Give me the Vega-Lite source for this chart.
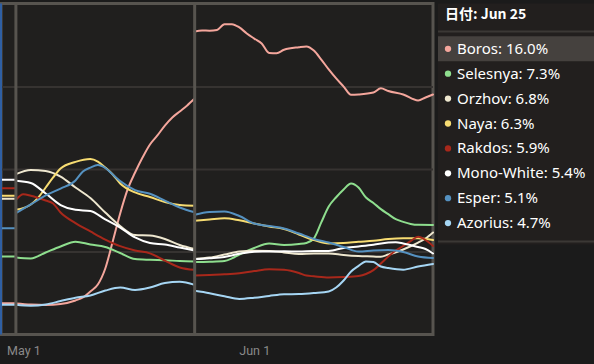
{
"$schema": "https://vega.github.io/schema/vega-lite/v6.json",
"background": "#1b1b1b",
"padding": {"left": -2, "top": 0.5, "right": 0, "bottom": 0},
"spacing": 5,
"bounds": "flush",
"config": {"font": "Noto Sans", "view": {"stroke": null}},
"datasets": {
"markers": [{"date": "2024-04-30"}, {"date": "2024-05-24"}],
"start": [{"date": "2024-04-28"}],
"grid": [{"level": 5.5}, {"level": 11}, {"level": 16.5}],
"panel": [
{"deck": "Boros", "rank": 1, "label": "Boros: 16.0%"},
{"deck": "Selesnya", "rank": 2, "label": "Selesnya: 7.3%"},
{"deck": "Orzhov", "rank": 3, "label": "Orzhov: 6.8%"},
{"deck": "Naya", "rank": 4, "label": "Naya: 6.3%"},
{"deck": "Rakdos", "rank": 5, "label": "Rakdos: 5.9%"},
{"deck": "Mono-White", "rank": 6, "label": "Mono-White: 5.4%"},
{"deck": "Esper", "rank": 7, "label": "Esper: 5.1%"},
{"deck": "Azorius", "rank": 8, "label": "Azorius: 4.7%"}
],
"shares": [
{"date":"2024-04-28","seg":"a","deck":"Boros","share":2.09},
{"date":"2024-04-30","seg":"a","deck":"Boros","share":2.09},
{"date":"2024-04-30","seg":"b","deck":"Boros","share":2.07},
{"date":"2024-05-02","seg":"b","deck":"Boros","share":2.0},
{"date":"2024-05-04","seg":"b","deck":"Boros","share":1.97},
{"date":"2024-05-06","seg":"b","deck":"Boros","share":2.03},
{"date":"2024-05-08","seg":"b","deck":"Boros","share":2.27},
{"date":"2024-05-09","seg":"b","deck":"Boros","share":2.47},
{"date":"2024-05-10","seg":"b","deck":"Boros","share":2.87},
{"date":"2024-05-11","seg":"b","deck":"Boros","share":3.33},
{"date":"2024-05-12","seg":"b","deck":"Boros","share":4.4},
{"date":"2024-05-13","seg":"b","deck":"Boros","share":6.2},
{"date":"2024-05-14","seg":"b","deck":"Boros","share":8.07},
{"date":"2024-05-15","seg":"b","deck":"Boros","share":9.67},
{"date":"2024-05-16","seg":"b","deck":"Boros","share":10.8},
{"date":"2024-05-17","seg":"b","deck":"Boros","share":11.8},
{"date":"2024-05-18","seg":"b","deck":"Boros","share":12.67},
{"date":"2024-05-19","seg":"b","deck":"Boros","share":13.27},
{"date":"2024-05-20","seg":"b","deck":"Boros","share":13.93},
{"date":"2024-05-21","seg":"b","deck":"Boros","share":14.47},
{"date":"2024-05-22","seg":"b","deck":"Boros","share":14.87},
{"date":"2024-05-23","seg":"b","deck":"Boros","share":15.27},
{"date":"2024-05-24","seg":"b","deck":"Boros","share":15.73},
{"date":"2024-05-24","seg":"c","deck":"Boros","share":20.2},
{"date":"2024-05-25","seg":"c","deck":"Boros","share":20.27},
{"date":"2024-05-26","seg":"c","deck":"Boros","share":20.25},
{"date":"2024-05-27","seg":"c","deck":"Boros","share":20.3},
{"date":"2024-05-28","seg":"c","deck":"Boros","share":20.69},
{"date":"2024-05-29","seg":"c","deck":"Boros","share":20.69},
{"date":"2024-05-30","seg":"c","deck":"Boros","share":20.47},
{"date":"2024-05-31","seg":"c","deck":"Boros","share":20.07},
{"date":"2024-06-01","seg":"c","deck":"Boros","share":19.73},
{"date":"2024-06-02","seg":"c","deck":"Boros","share":19.4},
{"date":"2024-06-03","seg":"c","deck":"Boros","share":18.77},
{"date":"2024-06-04","seg":"c","deck":"Boros","share":18.75},
{"date":"2024-06-05","seg":"c","deck":"Boros","share":18.98},
{"date":"2024-06-07","seg":"c","deck":"Boros","share":19.15},
{"date":"2024-06-08","seg":"c","deck":"Boros","share":19.2},
{"date":"2024-06-09","seg":"c","deck":"Boros","share":18.93},
{"date":"2024-06-10","seg":"c","deck":"Boros","share":18.33},
{"date":"2024-06-11","seg":"c","deck":"Boros","share":17.67},
{"date":"2024-06-12","seg":"c","deck":"Boros","share":17.07},
{"date":"2024-06-13","seg":"c","deck":"Boros","share":16.53},
{"date":"2024-06-14","seg":"c","deck":"Boros","share":15.98},
{"date":"2024-06-15","seg":"c","deck":"Boros","share":16.0},
{"date":"2024-06-17","seg":"c","deck":"Boros","share":16.13},
{"date":"2024-06-18","seg":"c","deck":"Boros","share":16.42},
{"date":"2024-06-19","seg":"c","deck":"Boros","share":16.23},
{"date":"2024-06-21","seg":"c","deck":"Boros","share":16.0},
{"date":"2024-06-23","seg":"c","deck":"Boros","share":15.6},
{"date":"2024-06-24","seg":"c","deck":"Boros","share":15.8},
{"date":"2024-06-25","seg":"c","deck":"Boros","share":16.0},

{"date":"2024-04-28","seg":"a","deck":"Selesnya","share":5.2},
{"date":"2024-04-30","seg":"a","deck":"Selesnya","share":5.2},
{"date":"2024-04-30","seg":"b","deck":"Selesnya","share":5.13},
{"date":"2024-05-02","seg":"b","deck":"Selesnya","share":5.07},
{"date":"2024-05-04","seg":"b","deck":"Selesnya","share":5.47},
{"date":"2024-05-06","seg":"b","deck":"Selesnya","share":5.87},
{"date":"2024-05-08","seg":"b","deck":"Selesnya","share":6.19},
{"date":"2024-05-10","seg":"b","deck":"Selesnya","share":6.0},
{"date":"2024-05-12","seg":"b","deck":"Selesnya","share":5.83},
{"date":"2024-05-14","seg":"b","deck":"Selesnya","share":5.43},
{"date":"2024-05-16","seg":"b","deck":"Selesnya","share":5.03},
{"date":"2024-05-18","seg":"b","deck":"Selesnya","share":4.98},
{"date":"2024-05-20","seg":"b","deck":"Selesnya","share":4.95},
{"date":"2024-05-22","seg":"b","deck":"Selesnya","share":4.9},
{"date":"2024-05-24","seg":"b","deck":"Selesnya","share":4.87},
{"date":"2024-05-24","seg":"c","deck":"Selesnya","share":4.83},
{"date":"2024-05-26","seg":"c","deck":"Selesnya","share":4.85},
{"date":"2024-05-28","seg":"c","deck":"Selesnya","share":4.9},
{"date":"2024-05-29","seg":"c","deck":"Selesnya","share":5.07},
{"date":"2024-05-30","seg":"c","deck":"Selesnya","share":5.33},
{"date":"2024-06-01","seg":"c","deck":"Selesnya","share":5.77},
{"date":"2024-06-03","seg":"c","deck":"Selesnya","share":6.07},
{"date":"2024-06-05","seg":"c","deck":"Selesnya","share":5.97},
{"date":"2024-06-07","seg":"c","deck":"Selesnya","share":6.03},
{"date":"2024-06-08","seg":"c","deck":"Selesnya","share":6.1},
{"date":"2024-06-09","seg":"c","deck":"Selesnya","share":6.4},
{"date":"2024-06-10","seg":"c","deck":"Selesnya","share":7.47},
{"date":"2024-06-11","seg":"c","deck":"Selesnya","share":8.53},
{"date":"2024-06-12","seg":"c","deck":"Selesnya","share":9.15},
{"date":"2024-06-13","seg":"c","deck":"Selesnya","share":9.67},
{"date":"2024-06-14","seg":"c","deck":"Selesnya","share":10.07},
{"date":"2024-06-15","seg":"c","deck":"Selesnya","share":9.8},
{"date":"2024-06-16","seg":"c","deck":"Selesnya","share":9.13},
{"date":"2024-06-17","seg":"c","deck":"Selesnya","share":8.77},
{"date":"2024-06-18","seg":"c","deck":"Selesnya","share":8.36},
{"date":"2024-06-19","seg":"c","deck":"Selesnya","share":8.02},
{"date":"2024-06-20","seg":"c","deck":"Selesnya","share":7.69},
{"date":"2024-06-21","seg":"c","deck":"Selesnya","share":7.51},
{"date":"2024-06-22","seg":"c","deck":"Selesnya","share":7.37},
{"date":"2024-06-23","seg":"c","deck":"Selesnya","share":7.31},
{"date":"2024-06-25","seg":"c","deck":"Selesnya","share":7.3},

{"date":"2024-04-28","seg":"a","deck":"Orzhov","share":9.05},
{"date":"2024-04-30","seg":"a","deck":"Orzhov","share":9.05},
{"date":"2024-04-30","seg":"b","deck":"Orzhov","share":10.69},
{"date":"2024-05-02","seg":"b","deck":"Orzhov","share":10.97},
{"date":"2024-05-04","seg":"b","deck":"Orzhov","share":10.9},
{"date":"2024-05-06","seg":"b","deck":"Orzhov","share":10.53},
{"date":"2024-05-08","seg":"b","deck":"Orzhov","share":9.8},
{"date":"2024-05-10","seg":"b","deck":"Orzhov","share":9.1},
{"date":"2024-05-12","seg":"b","deck":"Orzhov","share":8.13},
{"date":"2024-05-14","seg":"b","deck":"Orzhov","share":7.23},
{"date":"2024-05-16","seg":"b","deck":"Orzhov","share":6.63},
{"date":"2024-05-18","seg":"b","deck":"Orzhov","share":6.6},
{"date":"2024-05-20","seg":"b","deck":"Orzhov","share":6.37},
{"date":"2024-05-22","seg":"b","deck":"Orzhov","share":5.97},
{"date":"2024-05-24","seg":"b","deck":"Orzhov","share":5.7},
{"date":"2024-05-24","seg":"c","deck":"Orzhov","share":5.03},
{"date":"2024-05-26","seg":"c","deck":"Orzhov","share":5.13},
{"date":"2024-05-28","seg":"c","deck":"Orzhov","share":5.33},
{"date":"2024-05-30","seg":"c","deck":"Orzhov","share":5.53},
{"date":"2024-06-01","seg":"c","deck":"Orzhov","share":5.58},
{"date":"2024-06-03","seg":"c","deck":"Orzhov","share":5.57},
{"date":"2024-06-05","seg":"c","deck":"Orzhov","share":5.47},
{"date":"2024-06-07","seg":"c","deck":"Orzhov","share":5.37},
{"date":"2024-06-09","seg":"c","deck":"Orzhov","share":5.4},
{"date":"2024-06-11","seg":"c","deck":"Orzhov","share":5.4},
{"date":"2024-06-13","seg":"c","deck":"Orzhov","share":5.3},
{"date":"2024-06-15","seg":"c","deck":"Orzhov","share":5.23},
{"date":"2024-06-17","seg":"c","deck":"Orzhov","share":5.2},
{"date":"2024-06-18","seg":"c","deck":"Orzhov","share":5.18},
{"date":"2024-06-19","seg":"c","deck":"Orzhov","share":5.33},
{"date":"2024-06-21","seg":"c","deck":"Orzhov","share":5.67},
{"date":"2024-06-23","seg":"c","deck":"Orzhov","share":6.13},
{"date":"2024-06-24","seg":"c","deck":"Orzhov","share":6.4},
{"date":"2024-06-25","seg":"c","deck":"Orzhov","share":6.8},

{"date":"2024-04-28","seg":"a","deck":"Naya","share":9.25},
{"date":"2024-04-30","seg":"a","deck":"Naya","share":9.25},
{"date":"2024-04-30","seg":"b","deck":"Naya","share":8.31},
{"date":"2024-05-02","seg":"b","deck":"Naya","share":8.67},
{"date":"2024-05-03","seg":"b","deck":"Naya","share":9.13},
{"date":"2024-05-04","seg":"b","deck":"Naya","share":9.8},
{"date":"2024-05-05","seg":"b","deck":"Naya","share":10.47},
{"date":"2024-05-06","seg":"b","deck":"Naya","share":11.07},
{"date":"2024-05-08","seg":"b","deck":"Naya","share":11.51},
{"date":"2024-05-10","seg":"b","deck":"Naya","share":11.7},
{"date":"2024-05-11","seg":"b","deck":"Naya","share":11.53},
{"date":"2024-05-12","seg":"b","deck":"Naya","share":11.13},
{"date":"2024-05-13","seg":"b","deck":"Naya","share":10.67},
{"date":"2024-05-14","seg":"b","deck":"Naya","share":10.07},
{"date":"2024-05-16","seg":"b","deck":"Naya","share":9.47},
{"date":"2024-05-18","seg":"b","deck":"Naya","share":9.17},
{"date":"2024-05-20","seg":"b","deck":"Naya","share":8.83},
{"date":"2024-05-22","seg":"b","deck":"Naya","share":8.63},
{"date":"2024-05-24","seg":"b","deck":"Naya","share":8.58},
{"date":"2024-05-24","seg":"c","deck":"Naya","share":7.58},
{"date":"2024-05-26","seg":"c","deck":"Naya","share":7.67},
{"date":"2024-05-28","seg":"c","deck":"Naya","share":7.75},
{"date":"2024-05-30","seg":"c","deck":"Naya","share":7.61},
{"date":"2024-06-01","seg":"c","deck":"Naya","share":7.4},
{"date":"2024-06-03","seg":"c","deck":"Naya","share":7.2},
{"date":"2024-06-05","seg":"c","deck":"Naya","share":7.03},
{"date":"2024-06-07","seg":"c","deck":"Naya","share":6.67},
{"date":"2024-06-09","seg":"c","deck":"Naya","share":6.3},
{"date":"2024-06-11","seg":"c","deck":"Naya","share":6.07},
{"date":"2024-06-13","seg":"c","deck":"Naya","share":6.1},
{"date":"2024-06-15","seg":"c","deck":"Naya","share":6.18},
{"date":"2024-06-17","seg":"c","deck":"Naya","share":6.25},
{"date":"2024-06-19","seg":"c","deck":"Naya","share":6.37},
{"date":"2024-06-21","seg":"c","deck":"Naya","share":6.42},
{"date":"2024-06-23","seg":"c","deck":"Naya","share":6.41},
{"date":"2024-06-25","seg":"c","deck":"Naya","share":6.3},

{"date":"2024-04-28","seg":"a","deck":"Rakdos","share":9.75},
{"date":"2024-04-30","seg":"a","deck":"Rakdos","share":9.75},
{"date":"2024-04-30","seg":"b","deck":"Rakdos","share":8.98},
{"date":"2024-05-01","seg":"b","deck":"Rakdos","share":9.35},
{"date":"2024-05-02","seg":"b","deck":"Rakdos","share":9.25},
{"date":"2024-05-04","seg":"b","deck":"Rakdos","share":8.93},
{"date":"2024-05-05","seg":"b","deck":"Rakdos","share":8.73},
{"date":"2024-05-06","seg":"b","deck":"Rakdos","share":8.13},
{"date":"2024-05-08","seg":"b","deck":"Rakdos","share":7.43},
{"date":"2024-05-10","seg":"b","deck":"Rakdos","share":6.87},
{"date":"2024-05-12","seg":"b","deck":"Rakdos","share":6.33},
{"date":"2024-05-14","seg":"b","deck":"Rakdos","share":5.89},
{"date":"2024-05-16","seg":"b","deck":"Rakdos","share":5.6},
{"date":"2024-05-18","seg":"b","deck":"Rakdos","share":5.41},
{"date":"2024-05-20","seg":"b","deck":"Rakdos","share":4.93},
{"date":"2024-05-22","seg":"b","deck":"Rakdos","share":4.47},
{"date":"2024-05-24","seg":"b","deck":"Rakdos","share":4.31},
{"date":"2024-05-24","seg":"c","deck":"Rakdos","share":3.93},
{"date":"2024-05-26","seg":"c","deck":"Rakdos","share":3.97},
{"date":"2024-05-28","seg":"c","deck":"Rakdos","share":4.01},
{"date":"2024-05-30","seg":"c","deck":"Rakdos","share":4.08},
{"date":"2024-06-01","seg":"c","deck":"Rakdos","share":4.23},
{"date":"2024-06-03","seg":"c","deck":"Rakdos","share":4.35},
{"date":"2024-06-05","seg":"c","deck":"Rakdos","share":4.31},
{"date":"2024-06-07","seg":"c","deck":"Rakdos","share":4.1},
{"date":"2024-06-08","seg":"c","deck":"Rakdos","share":3.93},
{"date":"2024-06-09","seg":"c","deck":"Rakdos","share":3.88},
{"date":"2024-06-11","seg":"c","deck":"Rakdos","share":3.8},
{"date":"2024-06-13","seg":"c","deck":"Rakdos","share":3.83},
{"date":"2024-06-15","seg":"c","deck":"Rakdos","share":3.9},
{"date":"2024-06-16","seg":"c","deck":"Rakdos","share":4.03},
{"date":"2024-06-17","seg":"c","deck":"Rakdos","share":4.29},
{"date":"2024-06-18","seg":"c","deck":"Rakdos","share":4.73},
{"date":"2024-06-19","seg":"c","deck":"Rakdos","share":5.2},
{"date":"2024-06-20","seg":"c","deck":"Rakdos","share":5.6},
{"date":"2024-06-21","seg":"c","deck":"Rakdos","share":5.9},
{"date":"2024-06-22","seg":"c","deck":"Rakdos","share":6.23},
{"date":"2024-06-23","seg":"c","deck":"Rakdos","share":6.51},
{"date":"2024-06-24","seg":"c","deck":"Rakdos","share":6.3},
{"date":"2024-06-25","seg":"c","deck":"Rakdos","share":5.9},

{"date":"2024-04-28","seg":"a","deck":"Mono-White","share":10.31},
{"date":"2024-04-30","seg":"a","deck":"Mono-White","share":10.31},
{"date":"2024-04-30","seg":"b","deck":"Mono-White","share":10.25},
{"date":"2024-05-02","seg":"b","deck":"Mono-White","share":10.1},
{"date":"2024-05-04","seg":"b","deck":"Mono-White","share":9.4},
{"date":"2024-05-06","seg":"b","deck":"Mono-White","share":8.63},
{"date":"2024-05-08","seg":"b","deck":"Mono-White","share":8.31},
{"date":"2024-05-10","seg":"b","deck":"Mono-White","share":8.23},
{"date":"2024-05-12","seg":"b","deck":"Mono-White","share":7.67},
{"date":"2024-05-14","seg":"b","deck":"Mono-White","share":7.13},
{"date":"2024-05-16","seg":"b","deck":"Mono-White","share":6.47},
{"date":"2024-05-18","seg":"b","deck":"Mono-White","share":6.1},
{"date":"2024-05-20","seg":"b","deck":"Mono-White","share":6.0},
{"date":"2024-05-22","seg":"b","deck":"Mono-White","share":5.8},
{"date":"2024-05-24","seg":"b","deck":"Mono-White","share":5.6},
{"date":"2024-05-24","seg":"c","deck":"Mono-White","share":5.03},
{"date":"2024-05-26","seg":"c","deck":"Mono-White","share":5.09},
{"date":"2024-05-28","seg":"c","deck":"Mono-White","share":5.17},
{"date":"2024-05-30","seg":"c","deck":"Mono-White","share":5.38},
{"date":"2024-06-01","seg":"c","deck":"Mono-White","share":5.52},
{"date":"2024-06-03","seg":"c","deck":"Mono-White","share":5.53},
{"date":"2024-06-05","seg":"c","deck":"Mono-White","share":5.55},
{"date":"2024-06-07","seg":"c","deck":"Mono-White","share":5.53},
{"date":"2024-06-09","seg":"c","deck":"Mono-White","share":5.57},
{"date":"2024-06-11","seg":"c","deck":"Mono-White","share":5.57},
{"date":"2024-06-13","seg":"c","deck":"Mono-White","share":5.77},
{"date":"2024-06-15","seg":"c","deck":"Mono-White","share":5.87},
{"date":"2024-06-17","seg":"c","deck":"Mono-White","share":5.98},
{"date":"2024-06-19","seg":"c","deck":"Mono-White","share":6.13},
{"date":"2024-06-20","seg":"c","deck":"Mono-White","share":6.15},
{"date":"2024-06-21","seg":"c","deck":"Mono-White","share":6.07},
{"date":"2024-06-23","seg":"c","deck":"Mono-White","share":5.83},
{"date":"2024-06-24","seg":"c","deck":"Mono-White","share":5.7},
{"date":"2024-06-25","seg":"c","deck":"Mono-White","share":5.4},

{"date":"2024-04-28","seg":"a","deck":"Esper","share":7.09},
{"date":"2024-04-30","seg":"a","deck":"Esper","share":7.09},
{"date":"2024-04-30","seg":"b","deck":"Esper","share":8.09},
{"date":"2024-05-02","seg":"b","deck":"Esper","share":8.67},
{"date":"2024-05-04","seg":"b","deck":"Esper","share":9.27},
{"date":"2024-05-06","seg":"b","deck":"Esper","share":9.73},
{"date":"2024-05-08","seg":"b","deck":"Esper","share":10.27},
{"date":"2024-05-09","seg":"b","deck":"Esper","share":10.87},
{"date":"2024-05-10","seg":"b","deck":"Esper","share":11.13},
{"date":"2024-05-11","seg":"b","deck":"Esper","share":11.3},
{"date":"2024-05-12","seg":"b","deck":"Esper","share":11.1},
{"date":"2024-05-13","seg":"b","deck":"Esper","share":10.67},
{"date":"2024-05-14","seg":"b","deck":"Esper","share":10.23},
{"date":"2024-05-16","seg":"b","deck":"Esper","share":9.63},
{"date":"2024-05-18","seg":"b","deck":"Esper","share":9.38},
{"date":"2024-05-20","seg":"b","deck":"Esper","share":8.93},
{"date":"2024-05-22","seg":"b","deck":"Esper","share":8.47},
{"date":"2024-05-24","seg":"b","deck":"Esper","share":8.15},
{"date":"2024-05-24","seg":"c","deck":"Esper","share":7.98},
{"date":"2024-05-26","seg":"c","deck":"Esper","share":8.17},
{"date":"2024-05-28","seg":"c","deck":"Esper","share":8.2},
{"date":"2024-05-30","seg":"c","deck":"Esper","share":7.9},
{"date":"2024-06-01","seg":"c","deck":"Esper","share":7.4},
{"date":"2024-06-03","seg":"c","deck":"Esper","share":7.23},
{"date":"2024-06-05","seg":"c","deck":"Esper","share":7.07},
{"date":"2024-06-07","seg":"c","deck":"Esper","share":6.73},
{"date":"2024-06-09","seg":"c","deck":"Esper","share":6.37},
{"date":"2024-06-11","seg":"c","deck":"Esper","share":6.13},
{"date":"2024-06-13","seg":"c","deck":"Esper","share":5.83},
{"date":"2024-06-15","seg":"c","deck":"Esper","share":5.53},
{"date":"2024-06-17","seg":"c","deck":"Esper","share":5.6},
{"date":"2024-06-19","seg":"c","deck":"Esper","share":5.63},
{"date":"2024-06-21","seg":"c","deck":"Esper","share":5.5},
{"date":"2024-06-23","seg":"c","deck":"Esper","share":5.2},
{"date":"2024-06-25","seg":"c","deck":"Esper","share":5.1},

{"date":"2024-04-28","seg":"a","deck":"Azorius","share":1.98},
{"date":"2024-04-30","seg":"a","deck":"Azorius","share":1.98},
{"date":"2024-04-30","seg":"b","deck":"Azorius","share":1.98},
{"date":"2024-05-02","seg":"b","deck":"Azorius","share":1.92},
{"date":"2024-05-04","seg":"b","deck":"Azorius","share":2.0},
{"date":"2024-05-06","seg":"b","deck":"Azorius","share":2.23},
{"date":"2024-05-08","seg":"b","deck":"Azorius","share":2.45},
{"date":"2024-05-10","seg":"b","deck":"Azorius","share":2.6},
{"date":"2024-05-12","seg":"b","deck":"Azorius","share":2.93},
{"date":"2024-05-14","seg":"b","deck":"Azorius","share":3.13},
{"date":"2024-05-16","seg":"b","deck":"Azorius","share":2.97},
{"date":"2024-05-18","seg":"b","deck":"Azorius","share":3.13},
{"date":"2024-05-20","seg":"b","deck":"Azorius","share":3.43},
{"date":"2024-05-22","seg":"b","deck":"Azorius","share":3.51},
{"date":"2024-05-24","seg":"b","deck":"Azorius","share":3.31},
{"date":"2024-05-24","seg":"c","deck":"Azorius","share":2.91},
{"date":"2024-05-26","seg":"c","deck":"Azorius","share":2.75},
{"date":"2024-05-28","seg":"c","deck":"Azorius","share":2.55},
{"date":"2024-05-30","seg":"c","deck":"Azorius","share":2.37},
{"date":"2024-06-01","seg":"c","deck":"Azorius","share":2.45},
{"date":"2024-06-03","seg":"c","deck":"Azorius","share":2.57},
{"date":"2024-06-05","seg":"c","deck":"Azorius","share":2.68},
{"date":"2024-06-07","seg":"c","deck":"Azorius","share":2.7},
{"date":"2024-06-09","seg":"c","deck":"Azorius","share":2.77},
{"date":"2024-06-11","seg":"c","deck":"Azorius","share":2.87},
{"date":"2024-06-12","seg":"c","deck":"Azorius","share":3.13},
{"date":"2024-06-13","seg":"c","deck":"Azorius","share":3.6},
{"date":"2024-06-14","seg":"c","deck":"Azorius","share":4.2},
{"date":"2024-06-15","seg":"c","deck":"Azorius","share":4.57},
{"date":"2024-06-16","seg":"c","deck":"Azorius","share":4.87},
{"date":"2024-06-17","seg":"c","deck":"Azorius","share":4.83},
{"date":"2024-06-18","seg":"c","deck":"Azorius","share":4.53},
{"date":"2024-06-19","seg":"c","deck":"Azorius","share":4.43},
{"date":"2024-06-21","seg":"c","deck":"Azorius","share":4.32},
{"date":"2024-06-23","seg":"c","deck":"Azorius","share":4.53},
{"date":"2024-06-25","seg":"c","deck":"Azorius","share":4.7}
]
},
"hconcat": [
{
"width": 432,
"height": 331,
"view": {"fill": "#201f1e", "stroke": "#57544f", "strokeWidth": 3},
"layer": [
{
"data": {"name": "grid"},
"mark": {"type": "rule", "color": "#363331", "strokeWidth": 2},
"encoding": {
"y": {"field": "level", "type": "quantitative", "scale": {"domain": [0, 22.0667], "nice": false, "zero": true}, "axis": null}
}
},
{
"data": {"name": "shares"},
"mark": {"type": "line", "interpolate": "monotone", "strokeWidth": 2, "strokeJoin": "round", "strokeCap": "round"},
"encoding": {
"x": {"field": "date", "type": "temporal",
"scale": {"type": "utc", "domain": [{"year": 2024, "month": 4, "date": 28, "utc": true}, {"year": 2024, "month": 6, "date": 25, "utc": true}]},
"axis": {"title": null, "values": [{"year": 2024, "month": 5, "date": 1, "utc": true}, {"year": 2024, "month": 6, "date": 1, "utc": true}], "format": "%b %-d", "labelColor": "#8a8a8a", "labelFont": "Roboto", "labelFontSize": 12.5, "labelPadding": 10, "ticks": false, "domain": false, "grid": false, "minExtent": 31, "maxExtent": 31}},
"y": {"field": "share", "type": "quantitative",
"scale": {"domain": [0, 22.0667], "nice": false, "zero": true},
"axis": null},
"color": {"field": "deck", "type": "nominal",
"scale": {"domain": ["Boros", "Selesnya", "Orzhov", "Naya", "Rakdos", "Mono-White", "Esper", "Azorius"], "range": ["#f4a69c", "#8ede8e", "#eee7cf", "#f7dc72", "#a8281b", "#ffffff", "#5591c0", "#a6d6f4"]},
"legend": null},
"detail": {"field": "seg", "type": "nominal"}
}
},
{
"data": {"name": "markers"},
"mark": {"type": "rule", "color": "#57544f", "strokeWidth": 3},
"encoding": {"x": {"field": "date", "type": "temporal"}}
},
{
"data": {"name": "start"},
"mark": {"type": "rule", "color": "#2f5fa3", "strokeWidth": 2},
"encoding": {"x": {"field": "date", "type": "temporal"}}
}
]
},
{
"width": 157,
"height": 241,
"view": {"fill": "#221f1e", "stroke": null},
"layer": [
{
"data": {"values": [{}]},
"mark": {"type": "rect", "color": "#45413e"},
"encoding": {
"y": {"datum": 0.5, "type": "quantitative", "scale": {"domain": [-0.82, 8.86], "reverse": true, "nice": false, "zero": false}, "axis": null},
"y2": {"datum": 1.5}
}
},
{
"data": {"values": [{}]},
"mark": {"type": "rule", "color": "#3b3835", "strokeWidth": 2},
"encoding": {
"y": {"datum": 0.305, "type": "quantitative", "scale": {"domain": [-0.82, 8.86], "reverse": true, "nice": false, "zero": false}, "axis": null}
}
},
{
"data": {"values": [{}]},
"mark": {"type": "rule", "color": "#3b3835", "strokeWidth": 2},
"encoding": {
"y": {"datum": 8.74, "type": "quantitative", "scale": {"domain": [-0.82, 8.86], "reverse": true, "nice": false, "zero": false}, "axis": null}
}
},
{
"data": {"values": [{"title": "日付: Jun 25"}]},
"mark": {"type": "text", "align": "left", "baseline": "middle", "font": "Noto Sans CJK JP", "fontWeight": "bold", "fontSize": 14, "color": "#ffffff", "dx": -3},
"encoding": {
"x": {"datum": "dot", "type": "nominal", "scale": {"type": "point", "domain": ["dot", "label"], "range": [10, 19], "padding": 0}, "axis": null},
"y": {"datum": -0.365, "type": "quantitative", "scale": {"domain": [-0.82, 8.86], "reverse": true, "nice": false, "zero": false}, "axis": null},
"text": {"field": "title", "type": "nominal"}
}
},
{
"data": {"name": "panel"},
"mark": {"type": "circle", "size": 40, "opacity": 1},
"encoding": {
"x": {"datum": "dot", "type": "nominal", "scale": {"type": "point", "domain": ["dot", "label"], "range": [10, 19], "padding": 0}, "axis": null},
"y": {"field": "rank", "type": "quantitative", "scale": {"domain": [-0.82, 8.86], "reverse": true, "nice": false, "zero": false}, "axis": null},
"color": {"field": "deck", "type": "nominal",
"scale": {"domain": ["Boros", "Selesnya", "Orzhov", "Naya", "Rakdos", "Mono-White", "Esper", "Azorius"], "range": ["#f4a69c", "#8ede8e", "#eee7cf", "#f7dc72", "#a8281b", "#ffffff", "#5591c0", "#a6d6f4"]},
"legend": null}
}
},
{
"data": {"name": "panel"},
"mark": {"type": "text", "align": "left", "baseline": "middle", "font": "Noto Sans", "fontSize": 15, "color": "#ffffff"},
"encoding": {
"x": {"datum": "label", "type": "nominal", "scale": {"type": "point", "domain": ["dot", "label"], "range": [10, 19], "padding": 0}, "axis": null},
"y": {"field": "rank", "type": "quantitative", "scale": {"domain": [-0.82, 8.86], "reverse": true, "nice": false, "zero": false}, "axis": null},
"text": {"field": "label", "type": "nominal"}
}
}
]
}
]
}
